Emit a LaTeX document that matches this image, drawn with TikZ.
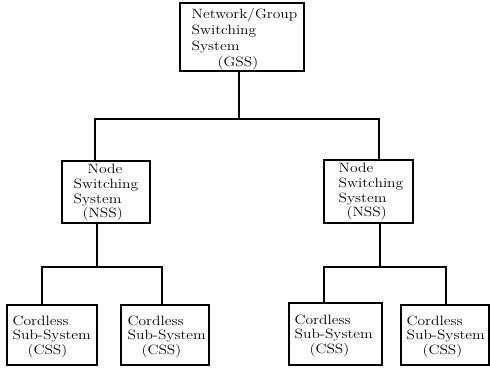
\documentclass[tikz,border=0pt]{standalone}
\usepackage{fontspec}
\setmainfont{Latin Modern Roman}[FakeStretch=1.15]
\begin{document}
\begin{tikzpicture}[x=1pt,y=-1pt,
  box/.style={draw, line width=1.1pt, rectangle, inner sep=0pt},
  txt/.style={anchor=north west, inner sep=0pt, align=left,
    font=\fontsize{13.5}{14.7}\selectfont},
  link/.style={line width=1.1pt}]
\useasboundingbox (0,0) rectangle (490,367);
% boxes
\node[box, minimum width=124pt, minimum height=68pt] (gss) at (242,37) {};
\node[box, minimum width=88pt, minimum height=62pt] (nssL) at (106,192) {};
\node[box, minimum width=89pt, minimum height=63pt] (nssR) at (368.5,191.5) {};
\node[box, minimum width=90pt, minimum height=60pt] (css1) at (52,335) {};
\node[box, minimum width=88pt, minimum height=60pt] (css2) at (165,335) {};
\node[box, minimum width=93pt, minimum height=62pt] (css3) at (335.5,334) {};
\node[box, minimum width=88pt, minimum height=60pt] (css4) at (445,335) {};
% texts
\node[txt, font=\fontsize{13.5}{16}\selectfont] (gsst) at ([shift={(12,5.9)}]gss.north west)
  {Network/Group\\Switching\\System\\\hspace*{26pt}(GSS)};
\node[txt] (nssLt) at ([shift={(12,3.6)}]nssL.north west)
  {\hspace*{14pt}Node\\Switching\\System\\\hspace*{9pt}(NSS)};
\node[txt] (nssRt) at ([shift={(15,3.6)}]nssR.north west)
  {Node\\Switching\\System\\\hspace*{8pt}(NSS)};
\node[txt, font=\fontsize{13.5}{14.2}\selectfont] (css1t) at ([shift={(6,11.6)}]css1.north west)
  {Cordless\\Sub-System\\\hspace*{15pt}(CSS)};
\node[txt, font=\fontsize{13.5}{14.2}\selectfont] (css2t) at ([shift={(7,11.6)}]css2.north west)
  {Cordless\\Sub-System\\\hspace*{14pt}(CSS)};
\node[txt, font=\fontsize{13.5}{14.2}\selectfont] (css3t) at ([shift={(6,12.6)}]css3.north west)
  {Cordless\\Sub-System\\\hspace*{15pt}(CSS)};
\node[txt, font=\fontsize{13.5}{14.2}\selectfont] (css4t) at ([shift={(6,11.6)}]css4.north west)
  {Cordless\\Sub-System\\\hspace*{16pt}(CSS)};
% junctions
\coordinate (j0) at (239,119);
\coordinate (j1) at (97,267);
\coordinate (j2) at (380,267);
% connectors
\draw[link] ([xshift=-3pt]gss.south) -- (j0);
\draw[link] ([xshift=-11pt]nssL.north) |- (j0) -| ([xshift=10.5pt]nssR.north);
\draw[link] ([xshift=-9pt]nssL.south) -- (j1);
\draw[link] ([xshift=-10pt]css1.north) |- (j1) -| ([xshift=-3pt]css2.north);
\draw[link] ([xshift=11.5pt]nssR.south) -- (j2);
\draw[link] ([xshift=-11.5pt]css3.north) |- (j2) -| ([xshift=1pt]css4.north);
\end{tikzpicture}
\end{document}
